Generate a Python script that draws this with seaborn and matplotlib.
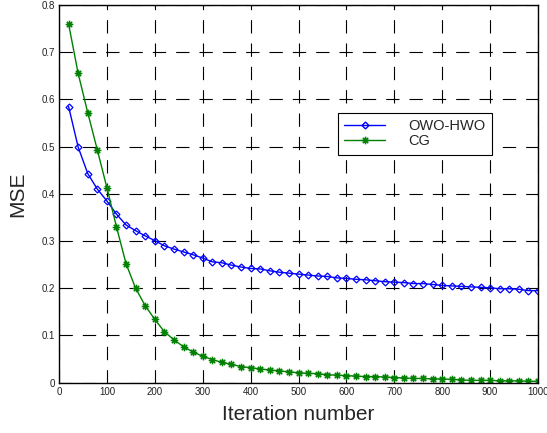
import numpy as np
import pandas as pd
import matplotlib
matplotlib.use("Agg")
import matplotlib.pyplot as plt
from matplotlib.path import Path
from matplotlib.lines import Line2D
import seaborn as sns

iterations = list(range(20, 1001, 20))
owo_hwo = [0.585, 0.499, 0.443, 0.410, 0.385, 0.357, 0.334, 0.322, 0.311, 0.301,
           0.290, 0.283, 0.277, 0.271, 0.264, 0.256, 0.254, 0.249, 0.245, 0.242,
           0.241, 0.237, 0.234, 0.232, 0.230, 0.228, 0.226, 0.225, 0.222, 0.221,
           0.219, 0.218, 0.216, 0.214, 0.213, 0.212, 0.210, 0.210, 0.208, 0.206,
           0.205, 0.204, 0.203, 0.202, 0.201, 0.199, 0.199, 0.198, 0.195, 0.195]
cg = [0.760, 0.655, 0.572, 0.493, 0.413, 0.330, 0.252, 0.200, 0.163, 0.134,
      0.108, 0.091, 0.076, 0.065, 0.056, 0.049, 0.043, 0.039, 0.034, 0.032,
      0.029, 0.027, 0.025, 0.023, 0.021, 0.020, 0.019, 0.017, 0.016, 0.015,
      0.014, 0.013, 0.013, 0.012, 0.011, 0.010, 0.009, 0.009, 0.008, 0.008,
      0.007, 0.006, 0.005, 0.005, 0.005, 0.004, 0.004, 0.004, 0.003, 0.003]
series_names = ["OWO-HWO", "CG"]
x_ticks = [0, 100, 200, 300, 400, 500, 600, 700, 800, 900, 1000]
y_ticks = [0, 0.1, 0.2, 0.3, 0.4, 0.5, 0.6, 0.7, 0.8]

sns.set_style("white")
plt.rcParams['font.family'] = ['Liberation Sans', 'DejaVu Sans']

BLUE = "#0000FF"
GREEN = "#008000"

# MATLAB-like asterisk marker (stroked lines)
d = 0.7071
asterisk = Path(
    [(-1, 0), (1, 0), (0, -1), (0, 1), (-d, -d), (d, d), (-d, d), (d, -d)],
    [Path.MOVETO, Path.LINETO] * 4,
)

df = pd.DataFrame({
    "iter": iterations * 2,
    "mse": owo_hwo + cg,
    "method": [series_names[0]] * len(iterations) + [series_names[1]] * len(iterations),
})

fig = plt.figure(figsize=(5.47, 4.33), dpi=100)
ax = fig.add_axes([59 / 547, 1 - 382.7 / 433, (538 - 59) / 547, (382.7 - 5) / 433])

palette = {"OWO-HWO": BLUE, "CG": GREEN}
sns.lineplot(data=df, x="iter", y="mse", hue="method", style="method",
             markers={"OWO-HWO": "D", "CG": "o"}, dashes=False,
             palette=palette, ax=ax, linewidth=1.0, legend=False,
             markersize=4)
for line in ax.get_lines():
    if line.get_marker() == "D":
        line.set_markerfacecolor("none")
        line.set_markeredgecolor(BLUE)
        line.set_markeredgewidth(0.9)
        line.set_markersize(3.5)
    elif line.get_marker() == "o":
        line.set_marker(asterisk)
        line.set_markerfacecolor("none")
        line.set_markeredgecolor(GREEN)
        line.set_markeredgewidth(1.1)
        line.set_markersize(5.5)

ax.set_xlim(0, 1000)
ax.set_ylim(0, 0.8)
ax.set_xticks(x_ticks)
ax.set_yticks(y_ticks)
ax.set_xticklabels([str(t) for t in x_ticks])
ax.set_yticklabels(["0"] + [f"{t:.1f}" for t in y_ticks[1:]])
ax.tick_params(direction="in", length=3.5, width=0.8, labelsize=7,
               labelcolor="#222222", top=False, right=False, pad=3)
ax.grid(True, color="black", linestyle=(0, (12, 9)), linewidth=0.8)
for s in ax.spines.values():
    s.set_color("black")
    s.set_linewidth(1.0)

ax.set_xlabel("Iteration number", fontsize=15, labelpad=6)
ax.set_ylabel("MSE", fontsize=15, labelpad=10)

handles = [
    Line2D([], [], color=BLUE, marker="D", markerfacecolor="none",
           markeredgecolor=BLUE, markersize=3.5, linewidth=1.0),
    Line2D([], [], color=GREEN, marker=asterisk, markerfacecolor="none",
           markeredgecolor=GREEN, markeredgewidth=1.1, markersize=5.5, linewidth=1.0),
]
leg = ax.legend(handles, series_names, loc="upper left",
                bbox_to_anchor=(337.7 / 547, 1 - 112.7 / 433),
                bbox_transform=fig.transFigure, fontsize=10.5,
                frameon=True, fancybox=False, edgecolor="black",
                framealpha=1, handlelength=2.8, handletextpad=1.6,
                borderpad=0.45, labelspacing=0.05, borderaxespad=0,
                markerfirst=True)
leg.get_frame().set_linewidth(0.8)
leg.set_zorder(5)

fig.savefig("out.png", dpi=100)
